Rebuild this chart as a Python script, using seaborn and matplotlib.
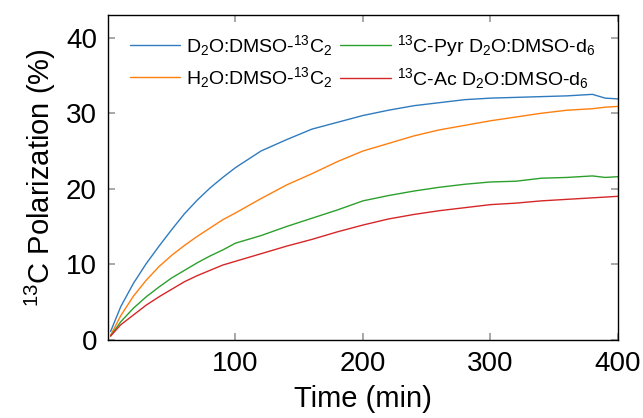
import numpy as np
import pandas as pd
import seaborn as sns
import matplotlib
matplotlib.use("Agg")
import matplotlib.pyplot as plt

# values (minutes, % polarization)
time_min = [2, 10, 20, 30, 40, 50, 60, 70, 80, 90, 100, 120, 140, 160, 180,
            200, 220, 240, 260, 280, 300, 320, 340, 360, 380, 390, 400]
d2o_13c2 = [1.1, 4.4, 7.5, 10.1, 12.4, 14.6, 16.7, 18.5, 20.1, 21.5, 22.8, 25.0, 26.5, 27.9, 28.8,
            29.7, 30.4, 31.0, 31.4, 31.8, 32.0, 32.1, 32.2, 32.3, 32.5, 32.0, 31.9]
h2o_13c2 = [0.6, 3.2, 5.8, 7.9, 9.7, 11.2, 12.5, 13.7, 14.8, 15.9, 16.8, 18.7, 20.5, 22.0, 23.6,
            25.0, 26.0, 27.0, 27.8, 28.4, 29.0, 29.5, 30.0, 30.4, 30.6, 30.8, 30.9]
pyr_d6 = [0.5, 2.4, 4.2, 5.7, 7.0, 8.2, 9.2, 10.2, 11.1, 11.9, 12.8, 13.8, 15.0, 16.1, 17.2,
          18.4, 19.1, 19.7, 20.2, 20.6, 20.9, 21.0, 21.4, 21.5, 21.7, 21.5, 21.6]
ac_d6 = [0.5, 2.0, 3.3, 4.6, 5.7, 6.7, 7.7, 8.5, 9.2, 9.9, 10.4, 11.4, 12.4, 13.3, 14.3,
         15.2, 16.0, 16.6, 17.1, 17.5, 17.9, 18.1, 18.4, 18.6, 18.8, 18.9, 19.0]

labels = [r"D$_2$O:DMSO-$^{13}$C$_2$",
          r"H$_2$O:DMSO-$^{13}$C$_2$",
          r"$^{13}$C-Pyr D$_2$O:DMSO-d$_6$",
          r"$^{13}$C-Ac D$_2$O:DMSO-d$_6$"]
series = [d2o_13c2, h2o_13c2, pyr_d6, ac_d6]

rows = []
for lab, vals in zip(labels, series):
    for t, v in zip(time_min, vals):
        rows.append({"time": t, "pol": v, "sample": lab})
df = pd.DataFrame(rows)

sns.set_theme(style="ticks")
plt.rcParams["font.family"] = ["Liberation Sans", "DejaVu Sans"]
plt.rcParams["mathtext.fontset"] = "custom"
plt.rcParams["mathtext.rm"] = "Liberation Sans"
plt.rcParams["mathtext.it"] = "Liberation Sans:italic"
plt.rcParams["mathtext.bf"] = "Liberation Sans:bold"
plt.rcParams["text.color"] = "black"
plt.rcParams["axes.labelcolor"] = "black"

colors = ["#2f7bbf", "#ff7f0e", "#2ca02c", "#d62728"]

fig = plt.figure(figsize=(6.43, 4.18), dpi=100)
ax = fig.add_axes([0.168, 0.187, 0.793, 0.777])
sns.lineplot(data=df, x="time", y="pol", hue="sample", palette=colors,
             linewidth=1.0, ax=ax, legend=True)

ax.set_xlim(0, 400)
ax.set_ylim(0, 43)
ax.set_xticks([100, 200, 300, 400])
ax.set_yticks([0, 10, 20, 30, 40])
ax.tick_params(direction="in", length=5, width=1.2, color="#999999",
               labelcolor="black", top=True, right=True, labelsize=20, pad=8)
for s in ax.spines.values():
    s.set_linewidth(1.0)
    s.set_color("black")

ax.set_xlabel("Time (min)", fontsize=21, labelpad=6, color="black")
ax.set_ylabel(r"$^{13}$C Polarization (%)", fontsize=21, labelpad=6, color="black")

handles, labs = ax.get_legend_handles_labels()
leg = ax.legend(handles, labs, ncol=2, frameon=False, fontsize=14,
                loc="upper left", bbox_to_anchor=(0.02, 0.98),
                handlelength=2.6, handletextpad=0.3, columnspacing=0.4,
                labelspacing=0.35, borderaxespad=0.2)
for t in leg.get_texts():
    t.set_color("black")

fig.savefig("out.png", dpi=100)
